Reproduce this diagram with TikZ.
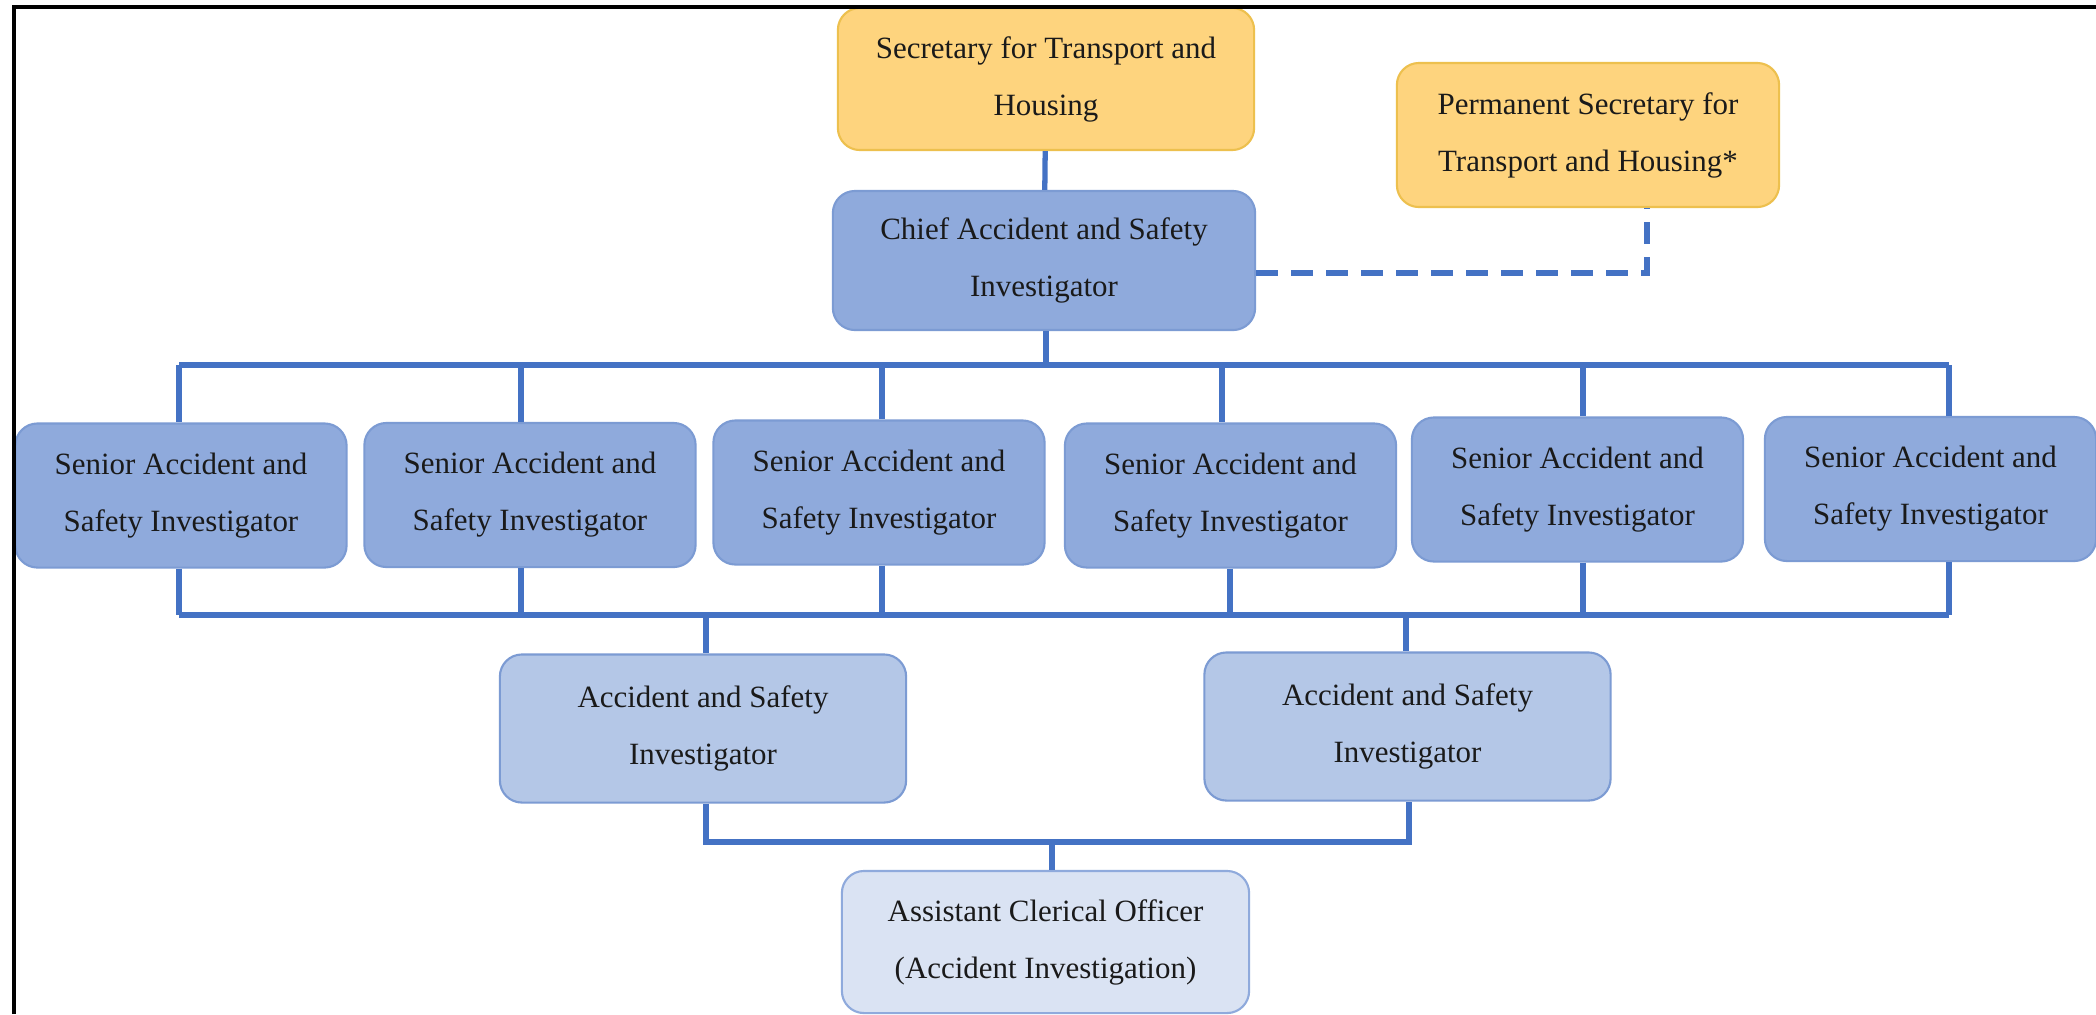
\documentclass[tikz,border=0pt]{standalone}
\usepackage{fontspec}
\setmainfont{Liberation Serif}
\definecolor{goldfill}{HTML}{FED47E}
\definecolor{goldline}{HTML}{EDC04E}
\definecolor{bluemid}{HTML}{8FAADC}
\definecolor{bluemidline}{HTML}{7C9BD3}
\definecolor{bluelight}{HTML}{B4C7E7}
\definecolor{bluepale}{HTML}{DAE3F3}
\definecolor{conn}{HTML}{4472C4}
\definecolor{txt}{HTML}{1A1A1A}
\tikzset{
  box/.style={rectangle, rounded corners=0.22cm, line width=0.6pt, align=center, inner sep=0pt,
    text=txt, font={\fontsize{8.8pt}{16.2pt}\selectfont}},
  goldbox/.style={box, fill=goldfill, draw=goldline},
  senbox/.style={box, fill=bluemid, draw=bluemidline, minimum width=3.31cm, minimum height=1.44cm},
  asibox/.style={box, fill=bluelight, draw=bluemidline, minimum width=4.06cm, minimum height=1.48cm},
  acobox/.style={box, fill=bluepale, draw=bluemid, minimum width=4.07cm, minimum height=1.42cm},
  link/.style={draw=conn, line width=1.5pt},
  dlink/.style={draw=conn, line width=1.6pt, dash pattern=on 0.22cm off 0.13cm},
  frame/.style={draw=black, line width=1pt}
}
\begin{document}
\begin{tikzpicture}[x=0.01cm, y=-0.01cm]
\useasboundingbox (0,0) rectangle (2096,1014);
\fill[white] (0,0) rectangle (2096,1014);

% boxes
\node[goldbox, minimum width=4.16cm, minimum height=1.42cm] (sec) at (1046,79) {Secretary for Transport and\\Housing};
\node[box, fill=bluemid, draw=bluemidline, minimum width=4.22cm, minimum height=1.39cm] (chief) at (1044,260.5) {Chief Accident and Safety\\Investigator};
\node[goldbox, minimum width=3.82cm, minimum height=1.44cm] (perm) at (1588,135) {Permanent Secretary for\\Transport and Housing*};

\node[senbox] (s1) at (181,495.5) {Senior Accident and\\Safety Investigator};
\node[senbox] (s2) at (530,495) {Senior Accident and\\Safety Investigator};
\node[senbox] (s3) at (879,492.5) {Senior Accident and\\Safety Investigator};
\node[senbox] (s4) at (1230.5,495.5) {Senior Accident and\\Safety Investigator};
\node[senbox] (s5) at (1577.5,489.5) {Senior Accident and\\Safety Investigator};
\node[senbox] (s6) at (1930.5,489) {Senior Accident and\\Safety Investigator};

\node[asibox] (a1) at (703,728.5) {Accident and Safety\\Investigator};
\node[asibox] (a2) at (1407.5,726.5) {Accident and Safety\\Investigator};

\node[acobox] (aco) at (1045.5,942) {Assistant Clerical Officer\\(Accident Investigation)};

% connector coordinates
\coordinate (dk) at (1647,273);
\coordinate (tb) at (1046,365);
\coordinate (tl) at (179,365);
\coordinate (tr) at (1949,365);
\coordinate (bl) at (179,615);
\coordinate (br) at (1949,615);
\coordinate (ml) at (706,842);
\coordinate (mr) at (1409,842);
\coordinate (mm) at (1052,842);

% connectors
\draw[link] (sec) -- (chief);
\draw[dlink] (chief.east |- dk) -- (dk) -- (dk |- perm.south);

\draw[link] (chief.south -| tb) -- (tb);
\draw[link] (tl) -- (tr);
\draw[link] (tl) -- (tl |- s1.north);
\draw[link] (521,365) -- (521,0 |- s2.north);
\draw[link] (882,365) -- (882,0 |- s3.north);
\draw[link] (1222,365) -- (1222,0 |- s4.north);
\draw[link] (1583,365) -- (1583,0 |- s5.north);
\draw[link] (tr) -- (tr |- s6.north);

\draw[link] (bl) -- (br);
\draw[link] (bl |- s1.south) -- (bl);
\draw[link] (521,0 |- s2.south) -- (521,615);
\draw[link] (882,0 |- s3.south) -- (882,615);
\draw[link] (1230,0 |- s4.south) -- (1230,615);
\draw[link] (1583,0 |- s5.south) -- (1583,615);
\draw[link] (br |- s6.south) -- (br);

\draw[link] (706,615) -- (706,0 |- a1.north);
\draw[link] (1406,615) -- (1406,0 |- a2.north);

\draw[link] (ml |- a1.south) -- (ml) -- (mr) -- (mr |- a2.south);
\draw[link] (mm) -- (mm |- aco.north);

% frame
\draw[frame] (14,1014) -- (14,7) -- (2096,7);
\end{tikzpicture}
\end{document}
